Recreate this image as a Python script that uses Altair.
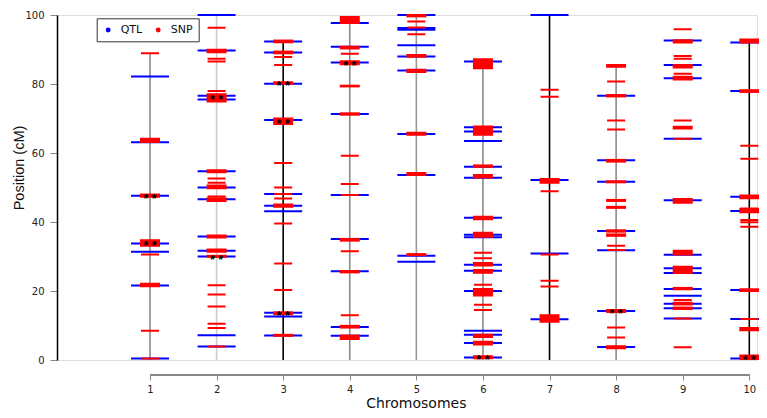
import altair as alt
import pandas as pd

# ---------------- data ----------------
CHROMS = [1, 2, 3, 4, 5, 6, 7, 8, 9, 10]

# chromosome backbone lines (chromosome 9 has no visible line)
LINE_CHROM = [1, 2, 3, 4, 5, 6, 7, 8, 10]
LINE_START = [0, 0, 0, 0, 0, 0, 0, 0, 0]
LINE_END = [88.9, 100, 92.3, 98.5, 100, 87.0, 100, 85.5, 92.3]

# QTL positions (cM) per chromosome
QTL = {
    1: [82.2, 63.1, 47.6, 33.8, 31.4, 21.6, 0.4],
    2: [100, 89.7, 76.6, 75.5, 54.7, 50.0, 46.6, 35.8, 31.7, 30.0, 7.2, 3.9],
    3: [92.3, 89.1, 80.1, 69.6, 48.1, 44.7, 43.1, 13.7, 12.6, 7.1],
    4: [97.7, 90.8, 86.2, 71.3, 47.8, 35.1, 25.7, 9.6, 7.0],
    5: [100, 96.2, 95.7, 91.2, 88.0, 83.9, 65.5, 53.6, 30.2, 28.5],
    6: [86.5, 67.5, 66.2, 63.5, 56.0, 52.8, 41.2, 36.3, 35.6, 27.6, 25.9, 20.0, 8.5, 7.3, 4.9, 0.7],
    7: [100, 52.2, 30.9, 11.8],
    8: [76.6, 57.9, 51.7, 37.4, 31.8, 14.2, 3.8],
    9: [92.6, 85.5, 81.7, 64.1, 46.3, 30.5, 26.6, 25.2, 20.6, 18.6, 16.3, 15.0, 12.0],
    10: [92.0, 78.0, 47.3, 43.2, 20.3, 11.9, 0.4],
}

# SNP positions / SNP clusters (low, high in cM) per chromosome
SNP = {
    1: [(88.9, 88.9), (63.2, 64.1), (47.3, 48.0), (33.1, 34.7), (30.6, 30.6), (21.4, 22.1), (8.5, 8.5), (0.4, 0.4)],
    2: [(96.3, 96.3), (89.2, 89.9), (87.3, 87.3), (86.5, 86.5), (78.0, 78.0), (74.9, 77.0), (54.4, 55.0), (52.6, 52.6),
        (51.4, 51.4), (49.8, 50.6), (47.4, 47.4), (46.1, 46.9), (35.5, 36.1), (31.4, 32.0), (29.9, 30.2), (21.7, 21.7),
        (19.0, 19.0), (15.5, 15.5), (10.5, 10.5), (9.3, 9.3), (3.9, 3.9)],
    3: [(92.1, 92.6), (88.9, 89.4), (87.8, 87.8), (85.5, 85.5), (80.1, 80.5), (68.4, 70.0), (57.1, 57.1), (50.0, 50.0),
        (48.1, 48.1), (46.8, 46.8), (44.4, 45.1), (39.6, 39.6), (28.0, 28.0), (20.3, 20.3), (13.3, 13.8), (7.0, 7.3)],
    4: [(97.7, 99.4), (90.3, 90.8), (88.8, 88.8), (85.7, 86.6), (79.3, 79.5), (71.1, 71.5), (59.2, 59.2), (51.0, 51.0),
        (47.8, 47.8), (34.6, 35.1), (31.5, 31.5), (25.4, 25.8), (13.0, 13.0), (9.4, 9.9), (6.1, 7.1)],
    5: [(99.6, 100), (98.1, 98.1), (96.4, 96.4), (94.4, 94.4), (87.9, 88.4), (83.5, 84.1), (65.3, 65.9), (53.6, 54.2),
        (30.4, 30.7)],
    6: [(84.6, 87.2), (65.3, 67.7), (56.0, 56.4), (52.9, 53.6), (40.8, 41.5), (35.7, 36.9), (31.1, 31.1), (29.5, 29.5),
        (27.4, 28.1), (25.3, 26.1), (21.8, 21.8), (18.7, 20.6), (16.0, 16.0), (14.5, 14.5), (6.7, 7.3), (4.5, 5.3),
        (0.5, 1.1)],
    7: [(78.3, 78.3), (76.3, 76.3), (51.4, 52.5), (48.9, 48.9), (30.6, 30.6), (23.0, 23.0), (21.3, 21.3), (11.1, 13.0)],
    8: [(85.0, 85.5), (80.7, 80.7), (76.4, 76.8), (69.4, 69.4), (66.8, 66.8), (57.5, 58.0), (51.5, 51.8), (46.1, 46.4),
        (44.1, 44.4), (37.2, 37.6), (36.0, 36.4), (33.1, 33.1), (31.9, 31.9), (13.9, 14.5), (9.4, 9.4), (6.5, 6.5),
        (3.4, 4.0)],
    9: [(95.9, 95.9), (92.0, 92.7), (88.1, 88.1), (87.3, 87.3), (84.8, 85.5), (83.0, 83.0), (81.3, 82.1), (69.4, 69.4),
        (67.1, 67.6), (64.1, 64.1), (45.6, 46.7), (30.6, 31.7), (25.2, 27.0), (20.5, 20.9), (17.4, 17.4), (16.1, 16.6),
        (14.8, 15.2), (12.0, 12.0), (3.7, 3.7)],
    10: [(92.0, 92.9), (77.7, 78.2), (62.1, 62.1), (58.3, 58.3), (46.9, 47.7), (43.9, 43.9), (42.8, 43.8), (40.6, 40.6),
         (39.9, 39.9), (38.6, 38.6), (20.0, 20.5), (11.9, 11.9), (8.6, 9.3), (0.3, 1.3)],
}

# significant SNPs marked with "**"
STARS = {1: [47.6, 33.8], 2: [76.3, 30.0], 3: [80.2, 69.3, 13.5], 4: [86.2], 6: [0.8], 8: [14.2], 10: [0.8]}

# ---------------- tables ----------------
lines_df = pd.DataFrame({"chrom": LINE_CHROM, "start": LINE_START, "end": LINE_END})
qtl_df = pd.DataFrame([{"chrom": c, "pos": p, "kind": "QTL"} for c, ps in QTL.items() for p in ps])
snp_df = pd.DataFrame([{"chrom": c, "lo": lo, "hi": hi, "kind": "SNP"} for c, iv in SNP.items() for lo, hi in iv])
star_df = pd.DataFrame([{"chrom": c, "pos": p} for c, ps in STARS.items() for p in ps])

# ---------------- scales ----------------
PX_PER_UNIT = (749.3 - 150.0) / 9.0
X0 = 1 - (150.0 - 57.0) / PX_PER_UNIT
W = 700
H = 345
X1 = X0 + W / PX_PER_UNIT
QTL_HALF = 19 / PX_PER_UNIT
SNP_HALF = 9 / PX_PER_UNIT

xscale = alt.Scale(domain=[X0, X1], nice=False, zero=False)
yscale = alt.Scale(domain=[0, 100], nice=False, zero=False)

FONT = "DejaVu Sans"

x_axis = alt.Axis(values=CHROMS, format="d", offset=15, domain=False, grid=False, tickSize=5,
                  tickColor="#888888", tickWidth=1, labelFontSize=10, labelFont=FONT, labelColor="#222222",
                  labelPadding=4, title="Chromosomes", titleFont=FONT, titleFontSize=14,
                  titleFontWeight="normal", titleColor="#111111", titleX=358.8, titleY=32,
                  titleBaseline="alphabetic")
y_axis = alt.Axis(values=[0, 20, 40, 60, 80, 100], grid=False, domainColor="#000000", domainWidth=1.5,
                  tickSize=7, tickColor="#888888", tickWidth=1, labelFontSize=10, labelFont=FONT,
                  labelColor="#222222", labelPadding=6, title="Position (cM)", titleFont="Liberation Sans",
                  titleFontSize=14.5, titleFontWeight="normal", titleColor="#111111", titleX=-37.5,
                  titleY=152.5, titleBaseline="middle", titleAlign="center")

line_colors = ["#8a8a8a", "#cccccc", "#000000", "#8a8a8a", "#999999", "#8a8a8a", "#000000", "#8a8a8a", "#000000"]

backbone = alt.Chart(lines_df).mark_rule(strokeWidth=1.6).encode(
    x=alt.X("chrom:Q", scale=xscale, axis=x_axis),
    y=alt.Y("start:Q", scale=yscale, axis=y_axis),
    y2="end:Q",
    stroke=alt.Stroke("chrom:O", scale=alt.Scale(domain=LINE_CHROM, range=line_colors), legend=None),
)

qtl = alt.Chart(qtl_df).transform_calculate(
    xa=f"datum.chrom - {QTL_HALF}", xb=f"datum.chrom + {QTL_HALF}"
).mark_rule(strokeWidth=2, color="#0000FF").encode(
    x=alt.X("xa:Q", scale=xscale),
    x2="xb:Q",
    y=alt.Y("pos:Q", scale=yscale),
)

snp = alt.Chart(snp_df).transform_calculate(
    xa=f"datum.chrom - {SNP_HALF}", xb=f"datum.chrom + {SNP_HALF}"
).mark_rect(stroke="#FF0000", strokeWidth=2).encode(
    x=alt.X("xa:Q", scale=xscale),
    x2="xb:Q",
    y=alt.Y("lo:Q", scale=yscale),
    y2="hi:Q",
    fill=alt.Fill("kind:N", scale=alt.Scale(domain=["QTL", "SNP"], range=["#0000FF", "#FF0000"]),
                  legend=alt.Legend(title=None, orient="none", legendX=39.7, legendY=3.3,
                                    direction="horizontal", symbolType="circle", symbolSize=24,
                                    symbolStrokeWidth=0, labelFont=FONT, labelFontSize=11,
                                    labelColor="#111111", labelOffset=7, columnPadding=10, padding=6,
                                    strokeColor="#333333", fillColor="#ffffff")),
)

stars = alt.Chart(star_df).mark_text(text="* *", fontSize=12.5, fontWeight="bold", color="#000000",
                                     font="Liberation Sans", baseline="alphabetic", dy=7).encode(
    x=alt.X("chrom:Q", scale=xscale),
    y=alt.Y("pos:Q", scale=yscale),
)

xaxis_line = alt.Chart(lines_df).mark_rule(color="#888888", strokeWidth=2).encode(
    x=alt.datum(1, scale=xscale), x2=alt.datum(10), y=alt.value(H + 15)
)

chart = alt.layer(backbone, qtl, snp, stars, xaxis_line).properties(
    width=W, height=H,
    autosize=alt.AutoSizeParams(type="none"),
    padding={"left": 49, "top": 7, "right": 2, "bottom": 56},
).configure_view(stroke=None).configure(background="#ffffff")

chart.save("out.html", embed_options={"renderer": "svg", "actions": False})
